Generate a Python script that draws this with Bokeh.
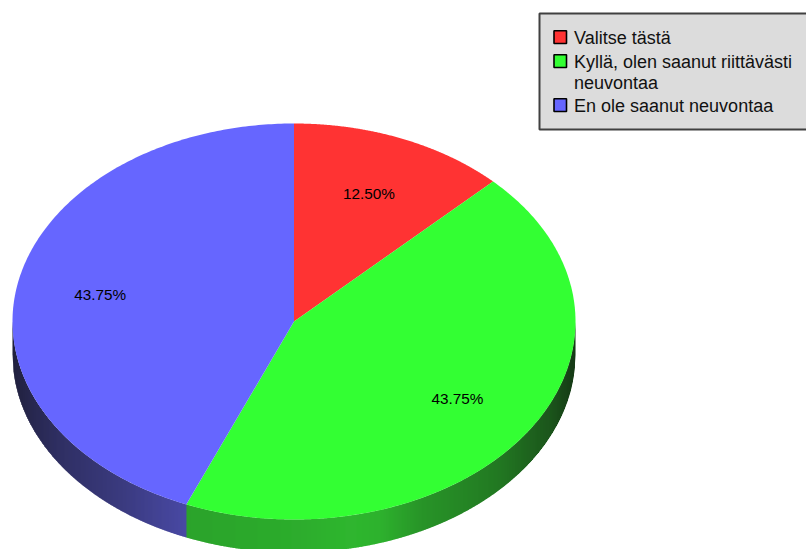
import numpy as np
from bokeh.plotting import figure
from bokeh.models import Range1d
from bokeh.core.properties import value
from bokeh.embed import file_html
from bokeh.resources import INLINE

# ---- data ----
categories = ["Valitse tästä", "Kyllä, olen saanut riittävästi neuvontaa", "En ole saanut neuvontaa"]
legend_lines = [["Valitse tästä"], ["Kyllä, olen saanut riittävästi", "neuvontaa"], ["En ole saanut neuvontaa"]]
shares = [12.5, 43.75, 43.75]
labels = ["12.50%", "43.75%", "43.75%"]
colors = ["#ff3333", "#33ff33", "#6666ff"]

# ---- geometry (reference pixels) ----
W, H = 806, 549
CX, CY, RX, RY, DEPTH = 293.5, 321.0, 281.5, 198.0, 33.0
FONT = value("Liberation Sans")

p = figure(width=W, height=H, output_backend="svg", toolbar_location=None,
           x_range=Range1d(0, W), y_range=Range1d(H, 0),
           min_border=0, min_border_left=0, min_border_right=0, min_border_top=0, min_border_bottom=0,
           outline_line_color=None, background_fill_color="white", border_fill_color="white")
p.axis.visible = False
p.grid.visible = False
p.styles = {"position": "absolute", "left": "0px", "top": "0px"}

fractions = np.array(shares) / sum(shares)
edges = np.concatenate([[0], np.cumsum(fractions)]) * 2 * np.pi  # clockwise from top


def rgb(c):
    return np.array([int(c[i:i + 2], 16) for i in (1, 3, 5)], float)


def hexc(a):
    return "#%02x%02x%02x" % tuple(int(round(v)) for v in np.clip(a, 0, 255))


# side wall: vertical strips, shaded along x, coloured by the slice on the lower rim
shade_x = [12, 30, 60, 120, 185, 300, 350, 380, 420, 477, 500, 550, 575]
shade_v = [0.20, 0.27, 0.36, 0.47, 0.62, 0.66, 0.70, 0.68, 0.56, 0.48, 0.44, 0.30, 0.18]
xs_s, ys_s, cs_s = [], [], []
xvals = np.arange(CX - RX, CX + RX, 1.0)
for x in xvals:
    x1 = min(x + 1.4, CX + RX)
    xm = x + 0.5
    ang = np.pi - np.arcsin((xm - CX) / RX)  # clockwise angle of that point of the lower rim
    idx = int(np.searchsorted(edges, ang, side="right") - 1)
    idx = min(idx, len(colors) - 1)
    f = np.interp(xm, shade_x, shade_v)
    y0 = CY + RY * np.sqrt(max(0.0, 1 - ((x - CX) / RX) ** 2))
    y1 = CY + RY * np.sqrt(max(0.0, 1 - ((x1 - CX) / RX) ** 2))
    xs_s.append([x, x1, x1, x])
    ys_s.append([y0, y1, y1 + DEPTH, y0 + DEPTH])
    cs_s.append(hexc(rgb(colors[idx]) * f))
p.patches(xs_s, ys_s, fill_color=cs_s, line_color=None)

# top slices
for i, c in enumerate(colors):
    t = np.linspace(edges[i], edges[i + 1], 240)
    xs = np.concatenate([[CX], CX + RX * np.sin(t)])
    ys = np.concatenate([[CY], CY - RY * np.cos(t)])
    p.patch(xs, ys, fill_color=c, line_color=None)

# percentage labels
mid = (edges[:-1] + edges[1:]) / 2
p.text(CX - 0.5 + 0.7 * RX * np.sin(mid), CY - 0.7 * RY * np.cos(mid), text=labels,
       text_font=FONT, text_font_size="15.3px", text_color="#000000",
       text_align="center", text_baseline="middle")

# legend
p.quad(left=[539], right=[810], top=[13], bottom=[129], fill_color="#dcdcdc",
       line_color="#404040", line_width=2)
row_y = [37, 61, 105]
line_step = 21.5
for lines, y, c in zip(legend_lines, row_y, colors):
    p.quad(left=[553.5], right=[566], top=[y - 6.7], bottom=[y + 6], fill_color=c,
           line_color="#000000", line_width=1.6)
    for k, s in enumerate(lines):
        p.text([573.5], [y + k * line_step], text=[s], text_font=FONT, text_font_size="18px",
               text_color="#111111", text_align="left", text_baseline="middle")

open("out.html", "w").write(file_html(p, INLINE))
